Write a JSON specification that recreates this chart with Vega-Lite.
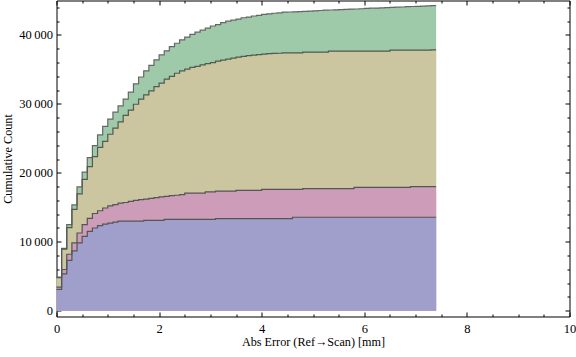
{
  "$schema": "https://vega.github.io/schema/vega-lite/v6.json",
  "autosize": {"type": "none"},
  "width": 513,
  "height": 316,
  "padding": {"left": 56.5, "top": 0.5, "right": 6.5, "bottom": 40.5},
  "background": "#ffffff",
  "config": {
    "view": {"stroke": "#000000", "strokeWidth": 1},
    "axis": {
      "labelFont": "Liberation Serif",
      "labelFontSize": 12.5,
      "labelColor": "#000000",
      "labelFlush": false,
      "titleFont": "Liberation Serif",
      "titleFontSize": 12.2,
      "titleFontWeight": "normal",
      "titleColor": "#000000",
      "grid": false,
      "domain": false,
      "tickColor": "#000000"
    }
  },
  "data": {
    "values": [
      {"x": 0.0, "blue": 3090, "pink": 3430, "tan": 4800, "green": 4870},
      {"x": 0.1, "blue": 5340, "pink": 5980, "tan": 8920, "green": 9050},
      {"x": 0.2, "blue": 7300, "pink": 8190, "tan": 12050, "green": 12500},
      {"x": 0.3, "blue": 8680, "pink": 9850, "tan": 14700, "green": 15350},
      {"x": 0.4, "blue": 9850, "pink": 11270, "tan": 16950, "green": 17950},
      {"x": 0.5, "blue": 10780, "pink": 12500, "tan": 19050, "green": 20100},
      {"x": 0.6, "blue": 11500, "pink": 13400, "tan": 20900, "green": 22200},
      {"x": 0.7, "blue": 12000, "pink": 14100, "tan": 22350, "green": 23950},
      {"x": 0.8, "blue": 12350, "pink": 14500, "tan": 23700, "green": 25500},
      {"x": 0.9, "blue": 12550, "pink": 14900, "tan": 24550, "green": 26750},
      {"x": 1.0, "blue": 12700, "pink": 15200, "tan": 25600, "green": 27800},
      {"x": 1.1, "blue": 12850, "pink": 15400, "tan": 26500, "green": 28800},
      {"x": 1.2, "blue": 13000, "pink": 15600, "tan": 27400, "green": 29700},
      {"x": 1.3, "blue": 13000, "pink": 15700, "tan": 28350, "green": 30700},
      {"x": 1.4, "blue": 13000, "pink": 15850, "tan": 29100, "green": 31700},
      {"x": 1.5, "blue": 13000, "pink": 16000, "tan": 29950, "green": 32900},
      {"x": 1.6, "blue": 13000, "pink": 16100, "tan": 30700, "green": 33900},
      {"x": 1.7, "blue": 13100, "pink": 16200, "tan": 31300, "green": 34800},
      {"x": 1.8, "blue": 13100, "pink": 16300, "tan": 31900, "green": 35600},
      {"x": 1.9, "blue": 13100, "pink": 16400, "tan": 32500, "green": 36400},
      {"x": 2.0, "blue": 13100, "pink": 16500, "tan": 33000, "green": 37100},
      {"x": 2.1, "blue": 13250, "pink": 16600, "tan": 33600, "green": 37700},
      {"x": 2.2, "blue": 13250, "pink": 16700, "tan": 34000, "green": 38300},
      {"x": 2.3, "blue": 13250, "pink": 16750, "tan": 34450, "green": 38800},
      {"x": 2.4, "blue": 13250, "pink": 16850, "tan": 34800, "green": 39300},
      {"x": 2.5, "blue": 13250, "pink": 17050, "tan": 35050, "green": 39700},
      {"x": 2.6, "blue": 13250, "pink": 17050, "tan": 35300, "green": 40100},
      {"x": 2.7, "blue": 13250, "pink": 17050, "tan": 35450, "green": 40400},
      {"x": 2.8, "blue": 13250, "pink": 17050, "tan": 35650, "green": 40700},
      {"x": 2.9, "blue": 13250, "pink": 17250, "tan": 35850, "green": 41000},
      {"x": 3.0, "blue": 13250, "pink": 17250, "tan": 36000, "green": 41300},
      {"x": 3.1, "blue": 13360, "pink": 17350, "tan": 36200, "green": 41500},
      {"x": 3.2, "blue": 13360, "pink": 17350, "tan": 36350, "green": 41800},
      {"x": 3.3, "blue": 13360, "pink": 17350, "tan": 36500, "green": 42000},
      {"x": 3.4, "blue": 13360, "pink": 17350, "tan": 36650, "green": 42150},
      {"x": 3.5, "blue": 13360, "pink": 17450, "tan": 36780, "green": 42300},
      {"x": 3.6, "blue": 13360, "pink": 17450, "tan": 36900, "green": 42500},
      {"x": 3.7, "blue": 13360, "pink": 17450, "tan": 37000, "green": 42600},
      {"x": 3.8, "blue": 13360, "pink": 17450, "tan": 37080, "green": 42750},
      {"x": 3.9, "blue": 13360, "pink": 17450, "tan": 37150, "green": 42850},
      {"x": 4.0, "blue": 13360, "pink": 17600, "tan": 37220, "green": 43000},
      {"x": 4.1, "blue": 13360, "pink": 17600, "tan": 37280, "green": 43050},
      {"x": 4.2, "blue": 13360, "pink": 17600, "tan": 37320, "green": 43150},
      {"x": 4.3, "blue": 13360, "pink": 17600, "tan": 37350, "green": 43200},
      {"x": 4.4, "blue": 13360, "pink": 17600, "tan": 37400, "green": 43300},
      {"x": 4.5, "blue": 13360, "pink": 17600, "tan": 37400, "green": 43330},
      {"x": 4.6, "blue": 13560, "pink": 17600, "tan": 37400, "green": 43360},
      {"x": 4.7, "blue": 13560, "pink": 17600, "tan": 37400, "green": 43400},
      {"x": 4.8, "blue": 13560, "pink": 17700, "tan": 37500, "green": 43430},
      {"x": 4.9, "blue": 13560, "pink": 17700, "tan": 37500, "green": 43460},
      {"x": 5.0, "blue": 13560, "pink": 17700, "tan": 37500, "green": 43500},
      {"x": 5.1, "blue": 13560, "pink": 17700, "tan": 37500, "green": 43550},
      {"x": 5.2, "blue": 13560, "pink": 17700, "tan": 37500, "green": 43600},
      {"x": 5.3, "blue": 13560, "pink": 17700, "tan": 37650, "green": 43620},
      {"x": 5.4, "blue": 13560, "pink": 17700, "tan": 37650, "green": 43650},
      {"x": 5.5, "blue": 13560, "pink": 17700, "tan": 37650, "green": 43680},
      {"x": 5.6, "blue": 13560, "pink": 17700, "tan": 37650, "green": 43720},
      {"x": 5.7, "blue": 13560, "pink": 17700, "tan": 37650, "green": 43750},
      {"x": 5.8, "blue": 13560, "pink": 17880, "tan": 37650, "green": 43770},
      {"x": 5.9, "blue": 13560, "pink": 17880, "tan": 37650, "green": 43800},
      {"x": 6.0, "blue": 13560, "pink": 17880, "tan": 37650, "green": 43850},
      {"x": 6.1, "blue": 13560, "pink": 17880, "tan": 37650, "green": 43880},
      {"x": 6.2, "blue": 13560, "pink": 17880, "tan": 37650, "green": 43900},
      {"x": 6.3, "blue": 13560, "pink": 17880, "tan": 37650, "green": 43930},
      {"x": 6.4, "blue": 13560, "pink": 17880, "tan": 37650, "green": 43960},
      {"x": 6.5, "blue": 13560, "pink": 17880, "tan": 37800, "green": 44000},
      {"x": 6.6, "blue": 13560, "pink": 17880, "tan": 37800, "green": 44030},
      {"x": 6.7, "blue": 13560, "pink": 17880, "tan": 37800, "green": 44060},
      {"x": 6.8, "blue": 13560, "pink": 17880, "tan": 37800, "green": 44100},
      {"x": 6.9, "blue": 13560, "pink": 18000, "tan": 37800, "green": 44130},
      {"x": 7.0, "blue": 13560, "pink": 18000, "tan": 37800, "green": 44160},
      {"x": 7.1, "blue": 13560, "pink": 18000, "tan": 37800, "green": 44190},
      {"x": 7.2, "blue": 13560, "pink": 18000, "tan": 37800, "green": 44220},
      {"x": 7.3, "blue": 13560, "pink": 18000, "tan": 37850, "green": 44260},
      {"x": 7.4, "blue": 13560, "pink": 18000, "tan": 37850, "green": 44260}
    ]
  },
  "layer": [
    {
      "mark": {"type": "area", "interpolate": "step-after", "color": "#9fcaaa"},
      "encoding": {
        "x": {"field": "x", "type": "quantitative", "scale": {"domain": [0, 10], "nice": false},
          "axis": {"orient": "bottom", "values": [0, 2, 4, 6, 8, 10], "ticks": false, "labelPadding": 6, "title": "Abs Error (Ref\u2192Scan) [mm]", "titlePadding": 0}},
        "y": {"field": "green", "type": "quantitative", "stack": null, "scale": {"domain": [-840, 45000], "nice": false, "zero": false},
          "axis": {"orient": "left", "values": [0, 10000, 20000, 30000, 40000], "ticks": false, "labelPadding": 4,
            "labelExpr": "replace(format(datum.value, ','), ',', '\u2009')", "title": "Cumulative Count", "titlePadding": 4}}
      }
    },
    {
      "mark": {"type": "area", "interpolate": "step-after", "color": "#cbc5a0"},
      "encoding": {
        "x": {"field": "x", "type": "quantitative", "axis": null},
        "y": {"field": "tan", "type": "quantitative", "stack": null, "axis": null}
      }
    },
    {
      "mark": {"type": "area", "interpolate": "step-after", "color": "#cc9cb8"},
      "encoding": {
        "x": {"field": "x", "type": "quantitative", "axis": null},
        "y": {"field": "pink", "type": "quantitative", "stack": null, "axis": null}
      }
    },
    {
      "mark": {"type": "area", "interpolate": "step-after", "color": "#a09fcc"},
      "encoding": {
        "x": {"field": "x", "type": "quantitative", "axis": null},
        "y": {"field": "blue", "type": "quantitative", "stack": null, "axis": null}
      }
    },
    {
      "mark": {"type": "line", "interpolate": "step-after", "color": "#666666", "strokeWidth": 1.2},
      "encoding": {
        "x": {"field": "x", "type": "quantitative", "axis": null},
        "y": {"field": "green", "type": "quantitative", "axis": null}
      }
    },
    {
      "mark": {"type": "line", "interpolate": "step-after", "color": "#4f5a50", "strokeWidth": 1.2},
      "encoding": {
        "x": {"field": "x", "type": "quantitative", "axis": null},
        "y": {"field": "tan", "type": "quantitative", "axis": null}
      }
    },
    {
      "mark": {"type": "line", "interpolate": "step-after", "color": "#555555", "strokeWidth": 1.2},
      "encoding": {
        "x": {"field": "x", "type": "quantitative", "axis": null},
        "y": {"field": "pink", "type": "quantitative", "axis": null}
      }
    },
    {
      "mark": {"type": "line", "interpolate": "step-after", "color": "#555555", "strokeWidth": 1.2},
      "encoding": {
        "x": {"field": "x", "type": "quantitative", "axis": null},
        "y": {"field": "blue", "type": "quantitative", "axis": null}
      }
    },
    {
      "mark": {"type": "point", "opacity": 0},
      "encoding": {
        "x": {"field": "x", "type": "quantitative", "axis": {"orient": "bottom", "values": [0, 2, 4, 6, 8, 10], "labels": false, "tickSize": -4.5, "title": null}},
        "y": {"field": "blue", "type": "quantitative", "axis": {"orient": "left", "values": [0, 10000, 20000, 30000, 40000], "labels": false, "tickSize": -4.5, "title": null}}
      }
    },
    {
      "mark": {"type": "point", "opacity": 0},
      "encoding": {
        "x": {"field": "x", "type": "quantitative", "axis": {"orient": "bottom", "values": [0.5, 1, 1.5, 2.5, 3, 3.5, 4.5, 5, 5.5, 6.5, 7, 7.5, 8.5, 9, 9.5], "labels": false, "tickSize": -2.5, "title": null}},
        "y": {"field": "blue", "type": "quantitative", "axis": {"orient": "left", "values": [2000, 4000, 6000, 8000, 12000, 14000, 16000, 18000, 22000, 24000, 26000, 28000, 32000, 34000, 36000, 38000, 42000, 44000], "labels": false, "tickSize": -2.5, "title": null}}
      }
    },
    {
      "mark": {"type": "point", "opacity": 0},
      "encoding": {
        "x": {"field": "x", "type": "quantitative", "axis": {"orient": "top", "values": [0, 2, 4, 6, 8, 10], "labels": false, "tickSize": -4.5, "title": null}},
        "y": {"field": "blue", "type": "quantitative", "axis": {"orient": "right", "values": [0, 10000, 20000, 30000, 40000], "labels": false, "tickSize": -4.5, "title": null}}
      }
    },
    {
      "mark": {"type": "point", "opacity": 0},
      "encoding": {
        "x": {"field": "x", "type": "quantitative", "axis": {"orient": "top", "values": [0.5, 1, 1.5, 2.5, 3, 3.5, 4.5, 5, 5.5, 6.5, 7, 7.5, 8.5, 9, 9.5], "labels": false, "tickSize": -2.5, "title": null}},
        "y": {"field": "blue", "type": "quantitative", "axis": {"orient": "right", "values": [2000, 4000, 6000, 8000, 12000, 14000, 16000, 18000, 22000, 24000, 26000, 28000, 32000, 34000, 36000, 38000, 42000, 44000], "labels": false, "tickSize": -2.5, "title": null}}
      }
    }
  ],
  "resolve": {"axis": {"x": "independent", "y": "independent"}}
}
